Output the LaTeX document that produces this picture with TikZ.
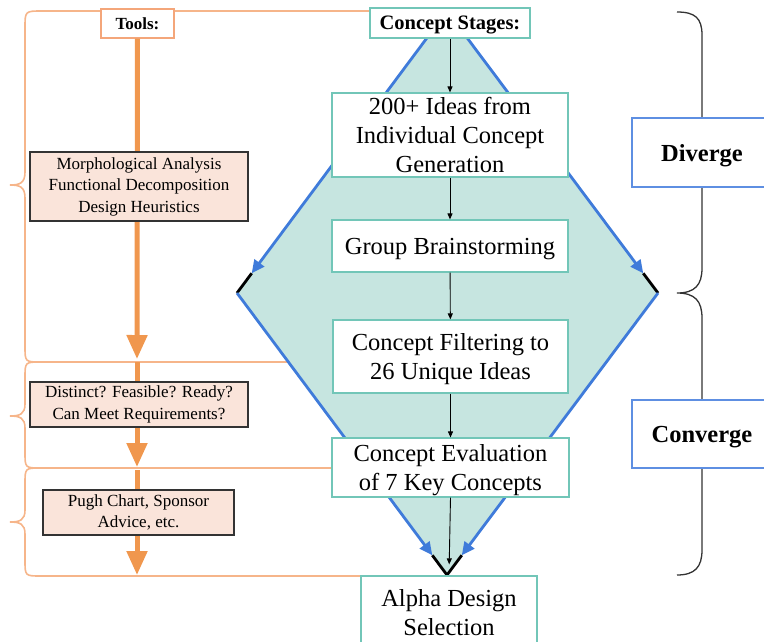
\documentclass[tikz,border=0pt]{standalone}
\usepackage{fontspec}
\setmainfont{Liberation Serif}
\usetikzlibrary{arrows.meta,calc}
\definecolor{orThin}{HTML}{F6B58A}
\definecolor{orThick}{HTML}{F0974E}
\definecolor{orBox}{HTML}{F4A67A}
\definecolor{peach}{HTML}{FAE4DA}
\definecolor{tealB}{HTML}{72C6B8}
\definecolor{dfill}{HTML}{C6E5E0}
\definecolor{blueD}{HTML}{3F7BDA}
\definecolor{blueB}{HTML}{5E8FE2}
\definecolor{darkB}{HTML}{333333}
\tikzset{
 stage/.style={draw=tealB, line width=1.2, fill=white, align=center, font=\fontsize{24.5}{29}\selectfont, inner sep=0, text depth=0pt},
 toolbox/.style={draw=darkB, line width=1.2, fill=peach, align=center, font=\fontsize{17}{21.5}\selectfont, inner sep=0},
 phase/.style={draw=blueB, line width=1.2, fill=white, inner sep=0, text depth=0pt, font=\bfseries\fontsize{24.5}{28}\selectfont},
 thinor/.style={draw=orThin, line width=1.6},
 thickar/.style={draw=orThick, line width=5, -{Triangle[length=24pt,width=20pt]}},
 flowar/.style={draw=black, line width=0.9, -{Triangle[length=6pt,width=5pt]}},
 edgear/.style={draw=blueD, line width=2.8, -{Triangle[length=13pt,width=12pt]}},
 edgeblk/.style={draw=black, line width=2.8},
 bracebk/.style={draw=darkB, line width=1.3},
}
\begin{document}
\begin{tikzpicture}[x=1pt,y=-1pt]
\useasboundingbox (0,0) rectangle (764,641);
% coordinates
\coordinate (T) at (447,11);
\coordinate (L) at (237,293);
\coordinate (B) at (447,575);
\coordinate (R) at (658,293);
\coordinate (a1) at (137,359);
\coordinate (a2s) at (137,362);
\coordinate (a2) at (137,467);
\coordinate (a3s) at (137,470);
\coordinate (a3) at (137,575);
% orange braces
\draw[thinor] (370,11) -- (42,11) .. controls (25,11) .. (25,28) -- (25,172)
  .. controls (25,183) and (20,185) .. (10,185) .. controls (20,185) and (25,187) .. (25,198)
  -- (25,346) .. controls (25,362) .. (41,362) -- (340,362);
\draw[thinor] (41,362) .. controls (25,362) .. (25,378) -- (25,404)
  .. controls (25,414) and (20,416) .. (10,416) .. controls (20,416) and (25,418) .. (25,428)
  -- (25,452) .. controls (25,468) .. (41,468) -- (340,468);
\draw[thinor] (41,468) .. controls (25,468) .. (25,484) -- (25,510)
  .. controls (25,520) and (20,522) .. (10,522) .. controls (20,522) and (25,524) .. (25,534)
  -- (25,560) .. controls (25,576) .. (41,576) -- (370,576);
% right brace
\draw[bracebk] (677,12) .. controls (695,12) and (702,18) .. (702,35) -- (702,268)
  .. controls (702,285) and (695,293) .. (677,293) .. controls (695,293) and (702,301) .. (702,318)
  -- (702,550) .. controls (702,567) and (695,575) .. (677,575);
% diamond
\fill[dfill] (T) -- (L) -- (B) -- (R) -- cycle;
\coordinate (pL) at ($(T)!0.93!(L)$);
\coordinate (pR) at ($(T)!0.93!(R)$);
\coordinate (pBL) at ($(L)!0.93!(B)$);
\coordinate (pBR) at ($(R)!0.93!(B)$);
\draw[edgeblk] (pL) -- (L);
\draw[edgeblk] (pR) -- (R);
\draw[edgeblk] (pBL) -- (B);
\draw[edgeblk] (pBR) -- (B);
\draw[edgear] (T) -- (pL);
\draw[edgear] (T) -- (pR);
\draw[edgear] (L) -- (pBL);
\draw[edgear] (R) -- (pBR);
% thick orange arrows
\node[draw=orBox, line width=1.2, fill=white, inner sep=0, minimum width=73, minimum height=29, font=\bfseries\fontsize{17}{18}\selectfont] (tools) at (137.5,23.5) {Tools:};
\draw[thickar] (tools.south) -- (a1);
\draw[thickar] (a2s) -- (a2);
\draw[thickar] (a3s) -- (a3);
% tool boxes
\node[toolbox, minimum width=218, minimum height=69] (t1) at (139,186.5) {Morphological Analysis\\Functional Decomposition\\Design Heuristics};
\node[toolbox, minimum width=218, minimum height=45] (t2) at (139,404.5) {Distinct? Feasible? Ready?\\Can Meet Requirements?};
\node[toolbox, minimum width=191, minimum height=45] (t3) at (138.5,512.5) {Pugh Chart, Sponsor\\Advice, etc.};
% stage boxes
\node[stage, minimum width=160, minimum height=30, font=\bfseries\fontsize{20.5}{22}\selectfont] (cs) at (450,23) {Concept Stages:};
\node[stage, minimum width=236, minimum height=84] (ideas) at (450,135) {200+ Ideas from\\Individual Concept\\Generation};
\node[stage, minimum width=236, minimum height=52] (group) at (450,246) {Group Brainstorming};
\node[stage, minimum width=235, minimum height=73] (filter) at (450.5,356.5) {Concept Filtering to\\26 Unique Ideas};
\node[stage, minimum width=237, minimum height=59] (eval) at (450.5,467.5) {Concept Evaluation\\of 7 Key Concepts};
\node[stage, minimum width=176, minimum height=72] (alpha) at (449,612) {Alpha Design\\Selection};
% flow arrows
\draw[flowar] (cs) -- (ideas);
\draw[flowar] (ideas) -- (group);
\draw[flowar] (group) -- (filter);
\draw[flowar] (filter) -- (eval);
\draw[flowar, shorten >=11pt] (eval.south) -- (alpha.north);
% phases
\node[phase, minimum width=140, minimum height=69] (div) at (702,152.5) {Diverge};
\node[phase, minimum width=140, minimum height=68] (conv) at (702,434) {Converge};
\end{tikzpicture}
\end{document}
